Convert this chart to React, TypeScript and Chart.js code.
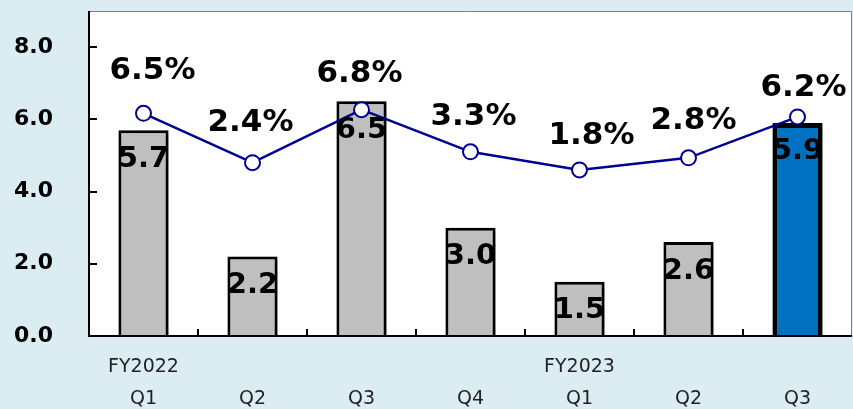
import React, { useEffect, useRef } from 'react';
import { Chart, registerables } from 'chart.js';

Chart.register(...registerables);

const quarters = ['Q1', 'Q2', 'Q3', 'Q4', 'Q1', 'Q2', 'Q3'];
const fiscalYears = ['FY2022', '', '', '', 'FY2023', '', ''];
const salesValues = [5.7, 2.2, 6.5, 3.0, 1.5, 2.6, 5.9];
const growthRates = [6.5, 2.4, 6.8, 3.3, 1.8, 2.8, 6.2];
const yTickValues = [0, 2, 4, 6, 8];

// label placement nudges (px, relative to each point) – styling only
const rateLabelDX = [9, -2, -2, 3, 12, 5, 6];
const rateLabelDY = [-42, -40, -36, -35, -34, -37, -29];

const GRAY = '#bfbfbf';
const BLUE = '#0070c0';
const NAVY = '#000090';
const FONT = "'DejaVu Sans', Verdana, sans-serif";

const barColors = salesValues.map((_, i) => (i === salesValues.length - 1 ? BLUE : GRAY));
const barBorders = salesValues.map((_, i) => (i === salesValues.length - 1 ? 5 : 3));

const decor = {
  id: 'decor',
  beforeDraw(chart: any) {
    const { ctx, width, height, chartArea: a } = chart;
    ctx.save();
    ctx.fillStyle = '#dbedf3';
    ctx.fillRect(0, 0, width, height);
    ctx.fillStyle = '#ffffff';
    ctx.fillRect(a.left, a.top, a.right - a.left, a.bottom - a.top);
    ctx.restore();
  },
  beforeDatasetDraw(chart: any, args: any) {
    if (args.index === 1) {
      const ctx = chart.ctx;
      ctx.save();
      ctx.shadowColor = 'rgba(0,0,0,0.4)';
      ctx.shadowBlur = 6;
      ctx.shadowOffsetX = 4;
      ctx.shadowOffsetY = 3;
    }
  },
  afterDatasetDraw(chart: any, args: any) {
    if (args.index === 1) chart.ctx.restore();
  },
  afterDatasetsDraw(chart: any) {
    const { ctx, chartArea: a, scales } = chart;
    const x = scales.x;
    const y = scales.y;
    ctx.save();
    ctx.strokeStyle = '#808080';
    ctx.lineWidth = 1;
    ctx.beginPath();
    ctx.moveTo(a.left, a.top + 0.5);
    ctx.lineTo(a.right - 0.5, a.top + 0.5);
    ctx.lineTo(a.right - 0.5, a.bottom);
    ctx.stroke();
    ctx.strokeStyle = '#000';
    ctx.lineWidth = 2;
    ctx.beginPath();
    ctx.moveTo(a.left, a.top);
    ctx.lineTo(a.left, a.bottom);
    ctx.lineTo(a.right, a.bottom);
    ctx.stroke();
    ctx.beginPath();
    yTickValues.forEach((v) => {
      const py = Math.round(y.getPixelForValue(v));
      ctx.moveTo(a.left, py);
      ctx.lineTo(a.left + 8, py);
    });
    for (let i = 1; i < quarters.length; i++) {
      const px = Math.round((x.getPixelForValue(i - 1) + x.getPixelForValue(i)) / 2);
      ctx.moveTo(px, a.bottom);
      ctx.lineTo(px, a.bottom - 7);
    }
    ctx.stroke();

    ctx.fillStyle = '#000';
    ctx.textAlign = 'center';
    ctx.textBaseline = 'middle';
    ctx.font = `bold 29px ${FONT}`;
    const barMeta = chart.getDatasetMeta(1);
    barMeta.data.forEach((el: any, i: number) => {
      ctx.fillText(salesValues[i].toFixed(1), el.x, el.y + 29);
    });
    ctx.font = `bold 31px ${FONT}`;
    const lineMeta = chart.getDatasetMeta(0);
    lineMeta.data.forEach((el: any, i: number) => {
      ctx.fillText(growthRates[i].toFixed(1) + '%', el.x + rateLabelDX[i], el.y + rateLabelDY[i]);
    });
    ctx.restore();
  },
};

export default function App() {
  const ref = useRef<HTMLCanvasElement>(null);
  useEffect(() => {
    document.body.style.margin = '0';
    const labels = quarters.map((q, i) => [fiscalYears[i], q]);
    const chart = new Chart(ref.current as HTMLCanvasElement, {
      type: 'bar',
      data: {
        labels,
        datasets: [
          {
            type: 'line',
            label: 'Growth',
            data: growthRates,
            yAxisID: 'y1',
            borderColor: NAVY,
            borderWidth: 2.5,
            pointRadius: 7.5,
            pointBorderWidth: 2,
            pointBackgroundColor: '#ffffff',
            pointBorderColor: NAVY,
            tension: 0,
            order: 0,
          } as any,
          {
            type: 'bar',
            label: 'Sales',
            data: salesValues,
            yAxisID: 'y',
            backgroundColor: barColors,
            borderColor: '#000',
            borderWidth: barBorders,
            categoryPercentage: 1,
            barPercentage: 0.46,
            order: 1,
          } as any,
        ],
      },
      options: {
        responsive: false,
        animation: false,
        layout: { autoPadding: false, padding: { top: 11, right: 1, left: 0, bottom: 0 } },
        plugins: { legend: { display: false }, tooltip: { enabled: false } },
        scales: {
          x: {
            offset: true,
            grid: { display: false },
            border: { display: false },
            ticks: {
              color: '#222',
              font: { family: FONT, size: 19, lineHeight: 1.68 },
              padding: 7,
              maxRotation: 0,
              autoSkip: false,
            },
            afterFit: (s: any) => {
              s.height = 73;
              s.paddingLeft = 0;
              s.paddingRight = 0;
              s.paddingTop = 0;
              s.paddingBottom = 0;
            },
          },
          y: {
            min: 0,
            max: 9,
            grid: { display: false },
            border: { display: false },
            ticks: {
              stepSize: 2,
              color: '#000',
              font: { family: FONT, size: 22, weight: 'bold' },
              padding: 28,
              callback: (v: any) => (yTickValues.includes(Number(v)) ? Number(v).toFixed(1) : ''),
            },
            afterFit: (s: any) => {
              s.width = 89;
              s.paddingTop = 0;
              s.paddingBottom = 0;
              s.paddingLeft = 0;
              s.paddingRight = 0;
            },
          },
          y1: {
            display: false,
            min: -12,
            max: 15,
          },
        },
      },
      plugins: [decor],
    });
    return () => chart.destroy();
  }, []);
  return (
    <div style={{ width: 853, height: 409 }}>
      <canvas ref={ref} width={853} height={409} />
    </div>
  );
}
